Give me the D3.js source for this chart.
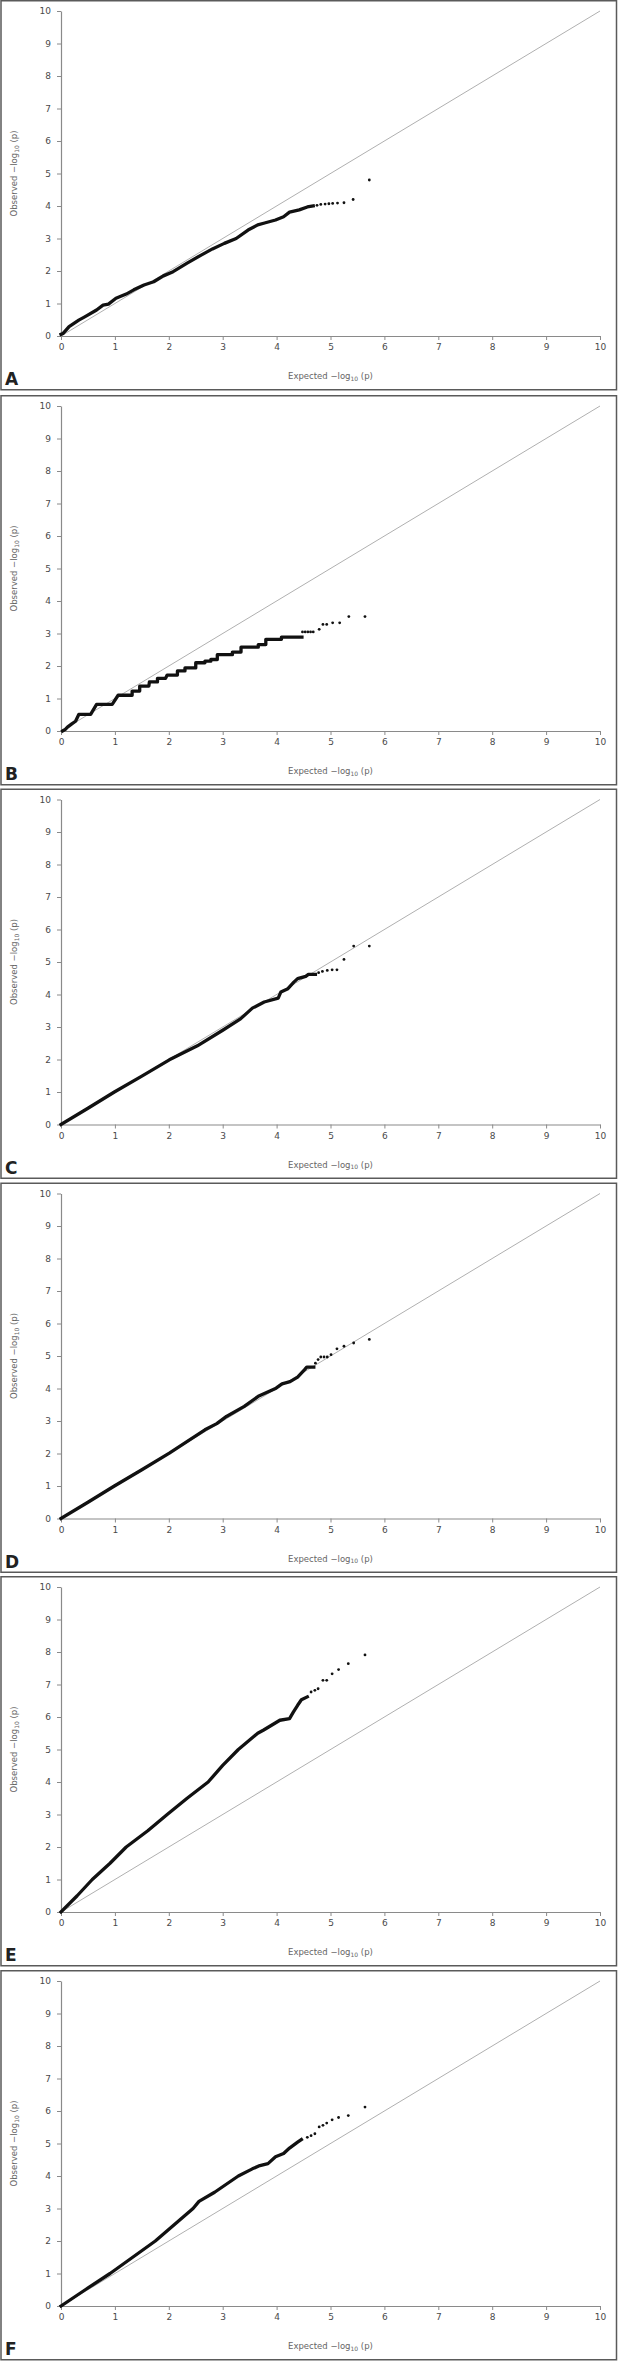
<!DOCTYPE html>
<html><head><meta charset="utf-8">
<script src="https://cdn.jsdelivr.net/npm/d3@7"></script>
<style>
html,body{margin:0;padding:0;background:#fff;}
svg{display:block;}
text{font-family:"DejaVu Sans",sans-serif;}
</style></head>
<body>
<svg id="chart" width="618" height="2361"></svg>
<script>
// ---------- data ----------
const panelLetters = ["A","B","C","D","E","F"];
const tickValues = [0,1,2,3,4,5,6,7,8,9,10];
const xTitle = "Expected −log";
const yTitle = "Observed −log";

const curveA = [[0,0.05],[0.04,0.08],[0.15,0.29],[0.33,0.49],[0.44,0.59],[0.66,0.8],[0.78,0.95],[0.88,0.98],[1.02,1.16],[1.21,1.29],[1.35,1.42],[1.54,1.57],[1.72,1.67],[1.9,1.85],[2.08,1.98],[2.34,2.24],[2.6,2.49],[2.81,2.68],[3.03,2.85],[3.25,3.0],[3.47,3.26],[3.65,3.42],[3.76,3.47],[3.98,3.57],[4.13,3.67],[4.24,3.81],[4.42,3.88],[4.57,3.97],[4.68,4.0]];
const tailA = [[4.75,4.02],[4.82,4.05],[4.9,4.06],[4.97,4.07],[5.04,4.08],[5.13,4.09],[5.25,4.1],[5.42,4.2],[5.72,4.8]];

const curveB = [[0.03,0.0],[0.08,0.05],[0.12,0.12],[0.2,0.22],[0.27,0.3],[0.33,0.51],[0.55,0.51],[0.66,0.82],[0.95,0.82],[1.06,1.1],[1.32,1.1],[1.32,1.23],[1.46,1.23],[1.46,1.38],[1.63,1.38],[1.64,1.51],[1.79,1.51],[1.79,1.62],[1.94,1.62],[1.97,1.72],[2.16,1.72],[2.16,1.85],[2.3,1.85],[2.3,1.94],[2.5,1.94],[2.5,2.1],[2.67,2.1],[2.67,2.15],[2.78,2.15],[2.78,2.2],[2.9,2.2],[2.9,2.35],[3.18,2.35],[3.18,2.43],[3.34,2.43],[3.34,2.58],[3.66,2.58],[3.66,2.66],[3.8,2.66],[3.8,2.82],[4.09,2.82],[4.09,2.89],[4.47,2.89]];
const tailB = [[4.48,3.05],[4.53,3.05],[4.58,3.05],[4.63,3.05],[4.68,3.05],[4.79,3.13],[4.86,3.28],[4.93,3.28],[5.04,3.33],[5.17,3.33],[5.34,3.52],[5.64,3.52]];

const curveC = [[0,0],[0.5,0.5],[0.99,1.0],[1.5,1.49],[2.01,1.99],[2.53,2.42],[3.0,2.9],[3.33,3.25],[3.55,3.58],[3.77,3.77],[4.03,3.89],[4.08,4.08],[4.21,4.18],[4.32,4.38],[4.39,4.49],[4.54,4.56],[4.59,4.62],[4.72,4.62]];
const tailC = [[4.78,4.67],[4.85,4.71],[4.94,4.74],[5.03,4.76],[5.12,4.76],[5.25,5.08],[5.43,5.49],[5.72,5.49]];

const curveD = [[0,0],[0.5,0.5],[0.99,1.0],[1.5,1.5],[2.01,2.01],[2.67,2.73],[2.89,2.92],[3.07,3.14],[3.4,3.45],[3.66,3.76],[3.99,4.01],[4.1,4.14],[4.25,4.21],[4.39,4.35],[4.52,4.58],[4.56,4.66],[4.69,4.66]];
const tailD = [[4.72,4.78],[4.77,4.89],[4.82,4.97],[4.88,4.97],[4.94,4.97],[5.01,5.04],[5.12,5.22],[5.25,5.3],[5.43,5.4],[5.72,5.51]];

const curveE = [[0,0],[0.3,0.5],[0.58,1.0],[0.91,1.5],[1.21,2.0],[1.61,2.5],[1.97,3.0],[2.34,3.5],[2.73,4.0],[3.0,4.51],[3.29,5.0],[3.65,5.5],[3.76,5.6],[4.06,5.9],[4.24,5.95],[4.31,6.15],[4.39,6.36],[4.46,6.53],[4.57,6.62]];
const tailE = [[4.64,6.77],[4.71,6.82],[4.77,6.87],[4.86,7.13],[4.93,7.13],[5.03,7.33],[5.15,7.46],[5.33,7.64],[5.64,7.91]];

const curveF = [[0,0],[0.45,0.5],[0.91,1.0],[1.33,1.5],[1.75,2.0],[2.1,2.5],[2.45,3.0],[2.56,3.22],[2.85,3.5],[3.29,4.0],[3.55,4.22],[3.69,4.32],[3.84,4.38],[3.98,4.59],[4.13,4.69],[4.24,4.86],[4.39,5.04],[4.46,5.12]];
const tailF = [[4.57,5.19],[4.64,5.24],[4.71,5.3],[4.79,5.51],[4.86,5.56],[4.93,5.63],[5.03,5.73],[5.15,5.8],[5.33,5.86],[5.64,6.12]];

const curves = [curveA,curveB,curveC,curveD,curveE,curveF];
const tails = [tailA,tailB,tailC,tailD,tailE,tailF];

// ---------- layout ----------
const panelTops = [0,395,788.5,1182.5,1576,1970];
const panelH = 389;
const svg = d3.select("#chart");

panelLetters.forEach((letter,i)=>{
  const top = panelTops[i];
  const g = svg.append("g");
  g.append("rect").attr("x",1).attr("y",top+0.75).attr("width",615.5).attr("height",panelH)
    .attr("fill","#fff").attr("stroke","#5a5a5a").attr("stroke-width",1.5);

  const x = d3.scaleLinear().domain([0,10]).range([61,600]);
  const y = d3.scaleLinear().domain([0,10]).range([top+336, top+11]);

  // diagonal reference line
  g.append("line").attr("x1",x(0)).attr("y1",y(0)).attr("x2",x(10)).attr("y2",y(10))
    .attr("stroke","#b0b0b0").attr("stroke-width",1);

  // axes
  const xa = g.append("g").attr("transform",`translate(0,${y(0)})`)
    .call(d3.axisBottom(x).tickValues(tickValues).tickSize(4).tickPadding(4).tickSizeOuter(0));
  const ya = g.append("g").attr("transform",`translate(${x(0)},0)`)
    .call(d3.axisLeft(y).tickValues(tickValues).tickSize(4).tickPadding(6).tickSizeOuter(0));
  [xa,ya].forEach(a=>{
    a.select(".domain").attr("stroke","#8a8a8a").attr("stroke-width",1.2);
    a.selectAll(".tick line").attr("stroke","#8a8a8a");
    a.selectAll(".tick text").attr("fill","#4a4a4a").attr("font-size",9).attr("font-family","DejaVu Sans, sans-serif");
  });

  // curve (dense section)
  const line = d3.line().x(d=>x(d[0])).y(d=>y(d[1]));
  g.append("path").datum(curves[i]).attr("d",line).attr("fill","none")
    .attr("stroke","#111").attr("stroke-width",3.3).attr("stroke-linejoin","round").attr("stroke-linecap","square");
  // tail points
  g.selectAll("circle.t").data(tails[i]).enter().append("circle")
    .attr("cx",d=>x(d[0])).attr("cy",d=>y(d[1])).attr("r",1.4).attr("fill","#111");

  // x title
  const xt = g.append("text").attr("x",(x(0)+x(10))/2).attr("y",top+379)
    .attr("text-anchor","middle").attr("fill","#666").attr("font-size",8.5);
  xt.append("tspan").text(xTitle);
  xt.append("tspan").attr("font-size",6).attr("dy",1.5).text("10");
  xt.append("tspan").attr("dy",-1.5).text(" (p)");

  // y title
  const yt = g.append("text").attr("transform",`translate(17,${(y(0)+y(10))/2}) rotate(-90)`)
    .attr("text-anchor","middle").attr("fill","#666").attr("font-size",8.5);
  yt.append("tspan").text(yTitle);
  yt.append("tspan").attr("font-size",6).attr("dy",1.5).text("10");
  yt.append("tspan").attr("dy",-1.5).text(" (p)");

  // panel letter
  g.append("text").attr("x",5).attr("y",top+385).attr("font-size",17).attr("font-weight","bold")
    .attr("font-family","Liberation Sans, Arial, sans-serif").attr("fill","#222").text(letter);
});
</script>
</body></html>
